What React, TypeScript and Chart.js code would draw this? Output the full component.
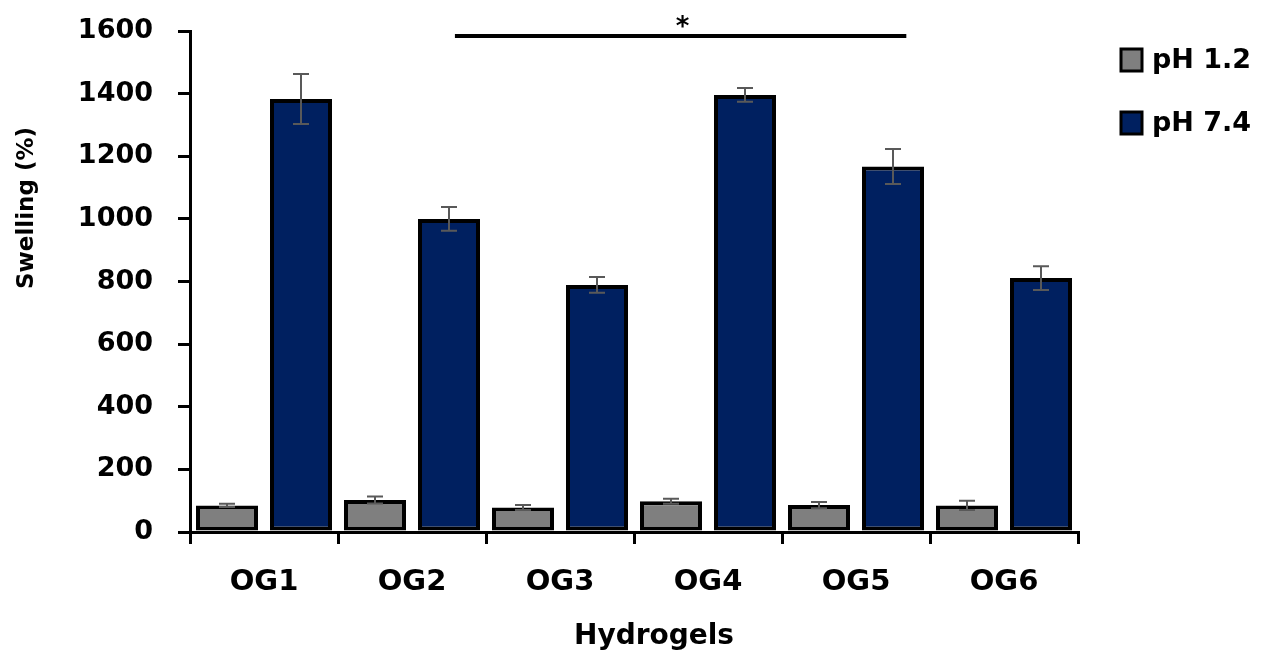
import React, { useEffect, useRef } from "react";
import { Chart, registerables } from "chart.js";

Chart.register(...registerables);

const categories = ["OG1", "OG2", "OG3", "OG4", "OG5", "OG6"];
const seriesLabels = ["pH 1.2", "pH 7.4"];
const ph12Values = [85, 102, 78, 98, 86, 85];
const ph12Errors = [5, 11, 8, 8, 10, 15];
const ph74Values = [1383, 1000, 789, 1396, 1167, 811];
const ph74Errors = [80, 38, 25, 22, 56, 38];
const yTicksMax = 1600;
const yTickStep = 200;
const xTitle = "Hydrogels";
const yTitle = "Swelling (%)";
const sigStart = 1.29;
const sigEnd = 4.34;
const sigValue = 1584;
const sigLabel = "*";

const FONT = "'DejaVu Sans', sans-serif";
const errorsBySeries = [ph12Errors, ph74Errors];

const overlayPlugin = {
  id: "overlay",
  afterDatasetsDraw(chart: any) {
    const ctx = chart.ctx;
    const y = chart.scales.y;
    ctx.save();
    ctx.strokeStyle = "#595959";
    ctx.lineWidth = 2;
    chart.data.datasets.forEach((ds: any, di: number) => {
      const meta = chart.getDatasetMeta(di);
      meta.data.forEach((el: any, i: number) => {
        const v = ds.data[i];
        const e = errorsBySeries[di][i];
        const x = el.x;
        const yt = y.getPixelForValue(v + e);
        const yb = y.getPixelForValue(v - e);
        ctx.beginPath();
        ctx.moveTo(x, yt);
        ctx.lineTo(x, yb);
        ctx.moveTo(x - 8, yt);
        ctx.lineTo(x + 8, yt);
        ctx.moveTo(x - 8, yb);
        ctx.lineTo(x + 8, yb);
        ctx.stroke();
      });
    });
    ctx.restore();
  },
  afterDraw(chart: any) {
    const ctx = chart.ctx;
    const xs = chart.scales.x;
    const ys = chart.scales.y;
    ctx.save();
    // significance bracket
    const p0 = xs.getPixelForValue(0);
    const cw = xs.getPixelForValue(1) - p0;
    const xa = p0 + sigStart * cw;
    const xb = p0 + sigEnd * cw;
    const yy = ys.getPixelForValue(sigValue);
    ctx.strokeStyle = "#000";
    ctx.lineWidth = 4;
    ctx.beginPath();
    ctx.moveTo(xa, yy);
    ctx.lineTo(xb, yy);
    ctx.stroke();
    ctx.fillStyle = "#000";
    ctx.font = `bold 26px ${FONT}`;
    ctx.textAlign = "center";
    ctx.textBaseline = "alphabetic";
    ctx.fillText(sigLabel, (xa + xb) / 2 + 2, yy - 1);

    // x title
    ctx.font = `bold 28px ${FONT}`;
    ctx.textAlign = "center";
    ctx.textBaseline = "alphabetic";
    ctx.fillText(xTitle, (chart.chartArea.left + chart.chartArea.right) / 2 + 20, 644);

    // y title
    ctx.save();
    ctx.translate(27, 208);
    ctx.rotate(-Math.PI / 2);
    ctx.font = `bold 23px ${FONT}`;
    ctx.textAlign = "center";
    ctx.textBaseline = "middle";
    ctx.fillText(yTitle, 0, 0);
    ctx.restore();

    // legend
    const legendY = [60, 123];
    chart.data.datasets.forEach((ds: any, di: number) => {
      const cy = legendY[di];
      ctx.fillStyle = ds.backgroundColor;
      ctx.fillRect(1121, cy - 11, 21, 22);
      ctx.strokeStyle = "#000";
      ctx.lineWidth = 3;
      ctx.strokeRect(1121, cy - 11, 21, 22);
      ctx.fillStyle = "#000";
      ctx.font = `bold 27px ${FONT}`;
      ctx.textAlign = "left";
      ctx.textBaseline = "middle";
      ctx.fillText(ds.label, 1152, cy + 1);
    });
    ctx.restore();
  },
};

export default function App() {
  const ref = useRef<HTMLCanvasElement>(null);
  useEffect(() => {
    if (!ref.current) return;
    const chart = new Chart(ref.current, {
      type: "bar",
      data: {
        labels: categories,
        datasets: [
          {
            label: seriesLabels[0],
            data: ph12Values,
            backgroundColor: "#7f7f7f",
            borderColor: "#000",
            borderWidth: 4,
            borderSkipped: false,
            inflateAmount: 0,
            categoryPercentage: 1.0,
            barPercentage: 62 / 74,
          },
          {
            label: seriesLabels[1],
            data: ph74Values,
            backgroundColor: "#002060",
            borderColor: "#000",
            borderWidth: 4,
            borderSkipped: false,
            inflateAmount: 0,
            categoryPercentage: 1.0,
            barPercentage: 62 / 74,
          },
        ],
      },
      options: {
        animation: false,
        responsive: true,
        maintainAspectRatio: false,
        layout: { padding: { left: 0, right: 183, top: 31, bottom: 0 } },
        plugins: { legend: { display: false }, tooltip: { enabled: false } },
        scales: {
          x: {
            afterFit: (s: any) => {
              s.height = 119;
              s.paddingLeft = 0;
              s.paddingRight = 0;
            },
            grid: {
              display: true,
              offset: true,
              drawOnChartArea: false,
              drawTicks: true,
              tickLength: 12,
              color: "#000",
              lineWidth: 3,
            },
            border: { display: true, color: "#000", width: 3 },
            ticks: {
              color: "#000",
              font: { family: FONT, weight: "bold", size: 29 },
              padding: 21,
            },
          },
          y: {
            min: 0,
            max: yTicksMax,
            afterFit: (s: any) => {
              s.width = 190;
              s.paddingTop = 0;
              s.paddingBottom = 0;
            },
            grid: {
              display: true,
              drawOnChartArea: false,
              drawTicks: true,
              tickLength: 12,
              color: "#000",
              lineWidth: 3,
            },
            border: { display: true, color: "#000", width: 3 },
            ticks: {
              stepSize: yTickStep,
              color: "#000",
              font: { family: FONT, weight: "bold", size: 27 },
              padding: 25,
              callback: (v: any) => String(v),
            },
          },
        },
      },
      plugins: [overlayPlugin],
    });
    return () => chart.destroy();
  }, []);
  return (
    <div style={{ position: "fixed", left: 0, top: 0, width: 1261, height: 651, background: "#fff" }}>
      <canvas ref={ref} />
    </div>
  );
}
